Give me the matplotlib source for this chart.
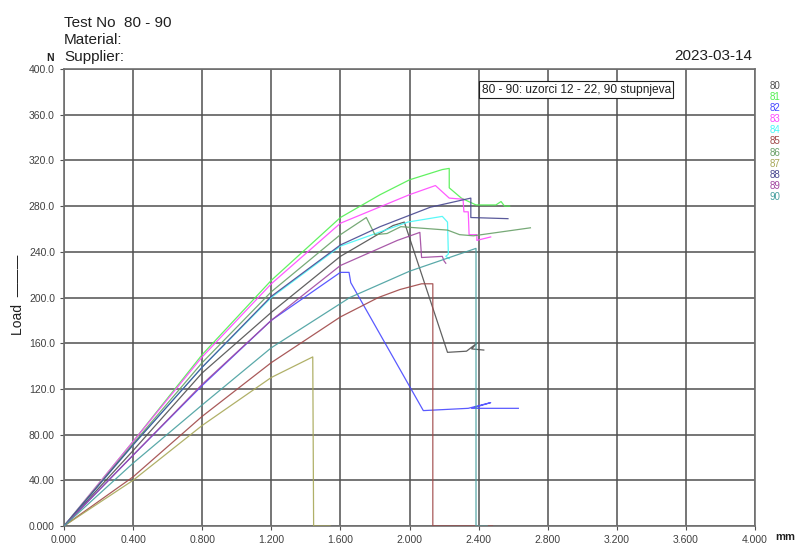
import matplotlib
matplotlib.use("Agg")
import matplotlib.pyplot as plt
import numpy as np

plt.rcParams['font.family'] = ['Liberation Sans', 'DejaVu Sans']

# sample ids and colours
samples = ['80', '81', '82', '83', '84', '85', '86', '87', '88', '89', '90']
colors = ['#505050', '#50f050', '#4848ff', '#ff48ff', '#48f8f8', '#a04848',
          '#68a068', '#a8a858', '#484890', '#a048a0', '#48a0a0']

# displacement (mm) / load (N)
x80 = [0, 0.4, 0.8, 1.2, 1.6, 1.905, 1.97, 2.22, 2.33, 2.39, 2.36, 2.43]
y80 = [0, 66, 134, 187, 236, 263, 266, 152, 153, 160, 155, 154]
x81 = [0, 0.4, 0.8, 1.2, 1.6, 1.83, 2.0, 2.19, 2.23, 2.23, 2.30, 2.385, 2.5, 2.53, 2.55, 2.58]
y81 = [0, 74, 150, 215, 270, 290, 303, 312, 313, 296, 287, 281, 281, 284, 280, 280]
x82 = [0, 0.4, 0.8, 1.2, 1.6, 1.65, 1.66, 2.08, 2.34, 2.47, 2.36, 2.63]
y82 = [0, 62, 123, 180, 222, 222, 213, 101, 103, 108, 103, 103]
x83 = [0, 0.4, 0.8, 1.2, 1.6, 2.0, 2.15, 2.23, 2.31, 2.315, 2.34, 2.345, 2.39, 2.39, 2.47]
y83 = [0, 74, 148, 212, 265, 290, 298, 287, 286, 275, 275, 255, 255, 250, 253]
x84 = [0, 0.4, 0.8, 1.2, 1.6, 1.99, 2.19, 2.22, 2.225, 2.21, 2.23]
y84 = [0, 71, 139, 200, 245, 266, 271, 266, 238, 236, 234]
x85 = [0, 0.4, 0.8, 1.2, 1.6, 1.82, 1.945, 2.07, 2.135, 2.135, 2.48]
y85 = [0, 43, 96, 143, 183, 200, 207, 212, 212, 0, 0]
x86 = [0, 0.4, 0.8, 1.2, 1.6, 1.75, 1.80, 1.87, 1.95, 2.04, 2.22, 2.29, 2.37, 2.70]
y86 = [0, 72, 143, 205, 255, 270, 255, 256, 262, 261, 259, 255, 254, 261]
x87 = [0, 0.4, 0.8, 1.2, 1.44, 1.445, 1.54]
y87 = [0, 40, 88, 130, 148, 0, 0]
x88 = [0, 0.4, 0.8, 1.2, 1.6, 1.83, 2.12, 2.355, 2.355, 2.57]
y88 = [0, 71, 139, 201, 246, 262, 279, 287, 270, 269]
x89 = [0, 0.4, 0.8, 1.2, 1.366, 1.6, 1.93, 2.06, 2.07, 2.19, 2.2, 2.21]
y89 = [0, 62, 124, 180, 200, 228, 250, 257, 235, 236, 232, 230]
x90 = [0, 0.4, 0.8, 1.2, 1.655, 2.0, 2.385, 2.385, 2.45]
y90 = [0, 55, 106, 156, 200, 223, 243, 0, 0]

xs = [x80, x81, x82, x83, x84, x85, x86, x87, x88, x89, x90]
ys = [y80, y81, y82, y83, y84, y85, y86, y87, y88, y89, y90]

xticks = np.arange(0, 4.01, 0.4)
yticks = np.arange(0, 401, 40)
ytick_labels = ['0.000', '40.00', '80.00', '120.0', '160.0', '200.0',
                '240.0', '280.0', '320.0', '360.0', '400.0']

fig = plt.figure(figsize=(7.96, 5.47), dpi=100)
ax = fig.add_axes([64/796, 21/547, 691/796, 457/547])

for xv, yv, c in zip(xs, ys, colors):
    ax.plot(xv, yv, color=c, lw=0.9, alpha=0.9, zorder=3)

ax.set_xlim(0, 4)
ax.set_ylim(0, 400)
ax.set_xticks(xticks)
ax.set_xticklabels(['%.3f' % v for v in xticks])
ax.set_yticks(yticks)
ax.set_yticklabels(ytick_labels)
ax.grid(True, color='#505050', lw=1.1, zorder=1)
ax.tick_params(labelsize=7.5, labelcolor='#404040', length=3, color='#505050', width=0.8)
for sp in ax.spines.values():
    sp.set_color('#707070')
    sp.set_linewidth(1.2)

# header text
fig.text(64/796, 1 - 23/547, 'Test No  80 - 90', fontsize=11, va='center', ha='left', color='#202020')
fig.text(64/796, 1 - 40/547, 'Material:', fontsize=11, va='center', ha='left', color='#202020')
fig.text(64/796, 1 - 57/547, 'Supplier:', fontsize=11, va='center', ha='left', color='#202020')
fig.text(752/796, 1 - 56/547, '2023-03-14', fontsize=11, va='center', ha='right', color='#202020')
fig.text(50/796, 1 - 58/547, 'N', fontsize=7.5, va='center', ha='center', fontweight='bold', color='#202020')
fig.text(18/796, 1 - 295/547, 'Load  ———', fontsize=10, rotation=90, va='center', ha='center', color='#202020')
fig.text(785/796, 1 - 537/547, 'mm', fontsize=8, va='center', ha='center', fontweight='bold', color='#202020')

# note box
ax.text(2.418, 382, '80 - 90: uzorci 12 - 22, 90 stupnjeva', fontsize=8.6, ha='left', va='center',
        color='#202020', zorder=5,
        bbox=dict(boxstyle='square,pad=0.2', fc='white', ec='#202020', lw=0.8))

# sample list on the right
for i, (s, c) in enumerate(zip(samples, colors)):
    fig.text(775/796, 1 - (86 + i * 11.1)/547, s, fontsize=7, color=c, va='center', ha='center')

fig.savefig('out.png', dpi=100)
